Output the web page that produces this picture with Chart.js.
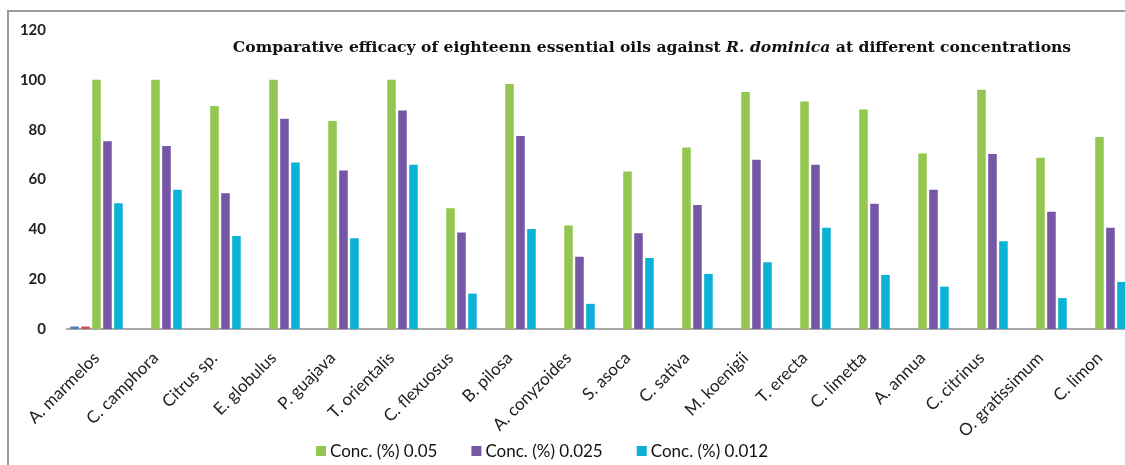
<!DOCTYPE html>
<html>
<head>
<meta charset="utf-8">
<script src="https://cdn.jsdelivr.net/npm/chart.js@4"></script>
<style>
  body { margin: 0; background: #fff; overflow: hidden; width: 1125px; height: 465px; }
  #frame { position: absolute; left: 7px; top: 10px; width: 1300px; height: 600px;
           border-left: 2px solid #9a9a9a; border-top: 2px solid #9a9a9a; }
  #effChart { position: absolute; left: 0; top: 0; }
</style>
</head>
<body>
<div id="frame"></div>
<canvas id="effChart" width="1140" height="465"></canvas>
<script>
// --- datos ---
const categories = ['A. marmelos', 'C. camphora', 'Citrus sp.', 'E. globulus', 'P. guajava', 'T. orientalis',
    'C. flexuosus', 'B. pilosa', 'A. conyzoides', 'S. asoca', 'C. sativa', 'M. koenigii',
    'T. erecta', 'C. limetta', 'A. annua', 'C. citrinus', 'O. gratissimum', 'C. limon'];
const conc005  = [100, 100, 89.5, 100, 83.5, 100, 48.5, 98.3, 41.5, 63.2, 72.8, 95.1, 91.3, 88.1, 70.4, 96.0, 68.7, 77.1];
const conc0025 = [75.4, 73.4, 54.5, 84.4, 63.6, 87.7, 38.7, 77.5, 29.0, 38.4, 49.8, 67.9, 65.9, 50.3, 55.9, 70.2, 47.1, 40.6];
const conc0012 = [50.5, 55.9, 37.3, 66.8, 36.4, 65.9, 14.2, 40.1, 10.1, 28.5, 22.1, 26.8, 40.6, 21.7, 17.0, 35.2, 12.4, 18.9];
// two stray series only present on the first category
const strayA = [1, null, null, null, null, null, null, null, null, null, null, null, null, null, null, null, null, null];
const strayB = [1, null, null, null, null, null, null, null, null, null, null, null, null, null, null, null, null, null];
const seriesNames = ['', '', 'Conc. (%) 0.05', 'Conc. (%) 0.025', 'Conc. (%) 0.012'];
const yTicks = [0, 20, 40, 60, 80, 100, 120];

const colors = ['#4f81bd', '#d0504d', '#94c751', '#7657a5', '#0cb1d6'];

// titulo con parte en cursiva
const titlePlugin = {
    id: 'mixedTitle',
    afterDraw(chart) {
        const ctx = chart.ctx;
        const parts = [
            ['Comparative efficacy of eighteenn essential oils against ', 'bold'],
            ['R. dominica', 'italic bold'],
            [' at different concentrations', 'bold']
        ];
        const target = 839;
        let size = 14;
        const measure = (s) => parts.reduce((w, p) => {
            ctx.font = p[1] + ' ' + s + 'px "DejaVu Serif"';
            return w + ctx.measureText(p[0]).width;
        }, 0);
        size = size * target / measure(size);
        const total = measure(size);
        let x = 652 - total / 2;
        ctx.save();
        ctx.fillStyle = '#111';
        ctx.textBaseline = 'middle';
        ctx.textAlign = 'left';
        parts.forEach(p => {
            ctx.font = p[1] + ' ' + size + 'px "DejaVu Serif"';
            ctx.fillText(p[0], x, 48);
            x += ctx.measureText(p[0]).width;
        });
        ctx.restore();
    }
};

// leyenda dibujada a mano (solo las tres concentraciones)
const legendPlugin = {
    id: 'bottomLegend',
    afterDraw(chart) {
        const ctx = chart.ctx;
        const items = [2, 3, 4];
        const box = 10, gapText = 4, gapItem = 34;
        ctx.save();
        ctx.font = '17px Lato';
        ctx.textBaseline = 'middle';
        const widths = items.map(i => box + gapText + ctx.measureText(seriesNames[i]).width);
        const total = widths.reduce((a, b) => a + b, 0) + gapItem * (items.length - 1);
        let x = 542 - total / 2;
        const y = 451;
        items.forEach((i, k) => {
            ctx.fillStyle = colors[i];
            ctx.fillRect(x, y - box / 2, box, box);
            ctx.fillStyle = '#111';
            ctx.fillText(seriesNames[i], x + box + gapText, y + 1);
            x += widths[k] + gapItem;
        });
        ctx.restore();
    }
};

const allSeries = [strayA, strayB, conc005, conc0025, conc0012];

new Chart(document.getElementById('effChart'), {
    type: 'bar',
    data: {
        labels: categories,
        datasets: allSeries.map((d, i) => ({
            label: seriesNames[i],
            data: d,
            backgroundColor: colors[i],
            borderWidth: 0,
            barPercentage: 0.78,
            categoryPercentage: 0.93
        }))
    },
    options: {
        responsive: false,
        animation: false,
        layout: { padding: { top: 28, right: 11, bottom: 0, left: 0 } },
        plugins: {
            legend: { display: false },
            title: { display: false },
            tooltip: { enabled: false }
        },
        scales: {
            x: {
                grid: { display: false, drawTicks: false },
                border: { display: true, color: '#a8a8a8', width: 2 },
                ticks: {
                    autoSkip: false,
                    minRotation: 45,
                    maxRotation: 45,
                    padding: 19,
                    color: '#222',
                    font: { family: 'Lato', size: 17 }
                },
                afterFit(scale) { scale.height = 136; }
            },
            y: {
                min: 0,
                max: 120,
                afterBuildTicks(scale) { scale.ticks = yTicks.map(v => ({ value: v })); },
                grid: { display: false, drawTicks: false },
                border: { display: false },
                ticks: {
                    padding: 21,
                    color: '#222',
                    font: { family: 'Lato', size: 15, weight: 'bold' }
                },
                afterFit(scale) { scale.width = 67; }
            }
        }
    },
    plugins: [titlePlugin, legendPlugin]
});
</script>
</body>
</html>
